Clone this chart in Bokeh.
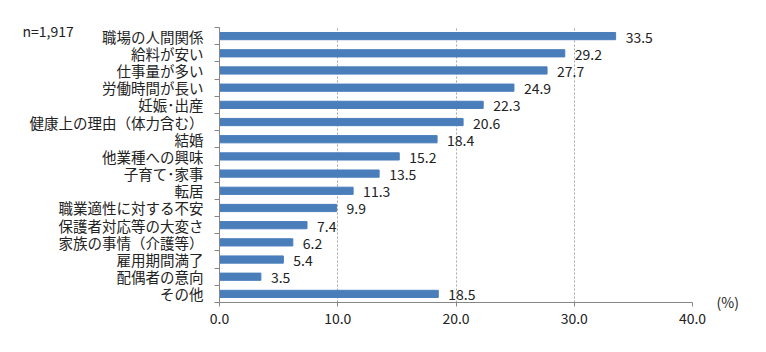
from bokeh.plotting import figure
from bokeh.models import (ColumnDataSource, Range1d, FixedTicker, NumeralTickFormatter,
                          LinearAxis, Title)
from bokeh.core.properties import value
from bokeh.embed import file_html
from bokeh.resources import INLINE

categories = ["職場の人間関係", "給料が安い", "仕事量が多い", "労働時間が長い", "妊娠･出産",
              "健康上の理由（体力含む）", "結婚", "他業種への興味", "子育て･家事", "転居",
              "職業適性に対する不安", "保護者対応等の大変さ", "家族の事情（介護等）",
              "雇用期間満了", "配偶者の意向", "その他"]
values = [33.5, 29.2, 27.7, 24.9, 22.3, 20.6, 18.4, 15.2, 13.5, 11.3, 9.9, 7.4, 6.2, 5.4, 3.5, 18.5]
x_ticks = [0, 10, 20, 30, 40]
sample_note = "n=1,917"
unit_note = "(%)"

JP = "Noto Sans CJK JP"
n = len(categories)
ys = [n - 1 - i for i in range(n)]
src = ColumnDataSource(dict(y=ys, v=values, cat=categories, lab=["%.1f" % v for v in values]))

p = figure(width=766, height=352, output_backend="svg", toolbar_location=None,
           x_range=Range1d(0, 40), y_range=Range1d(-0.5, n - 0.5),
           min_border_left=219, min_border_right=74, min_border_top=27, min_border_bottom=50)
p.outline_line_color = None
p.background_fill_color = "white"

p.hbar(y="y", right="v", left=0, height=0.42, color="#4A7EBB", source=src)
p.text(x="v", y="y", text="lab", source=src, x_offset=10, y_offset=1,
       text_font=value(JP), text_font_size="14px", text_color="#222222",
       text_baseline="middle", text_align="left")

# x axis
p.xaxis.ticker = FixedTicker(ticks=x_ticks)
p.xaxis.formatter = NumeralTickFormatter(format="0.0")
p.xaxis.axis_line_color = "#868686"
p.xaxis.major_tick_line_color = "#868686"
p.xaxis.major_tick_out = 4
p.xaxis.major_tick_in = 0
p.xaxis.minor_tick_line_color = None
p.xaxis.major_label_text_font = JP
p.xaxis.major_label_text_font_size = "14px"
p.xaxis.major_label_text_color = "#222222"
p.xaxis.major_label_standoff = 6

# y axis: labels at centers, ticks at boundaries
p.yaxis.ticker = FixedTicker(ticks=ys, minor_ticks=[k - 0.5 for k in range(n + 1)])
p.yaxis.major_label_overrides = {y: c for y, c in zip(ys, categories)}
p.yaxis.axis_line_color = "#868686"
p.yaxis.major_tick_line_color = None
p.yaxis.major_tick_out = 0
p.yaxis.major_tick_in = 0
p.yaxis.minor_tick_line_color = "#868686"
p.yaxis.minor_tick_out = 5
p.yaxis.minor_tick_in = 0
p.yaxis.major_label_text_font = JP
p.yaxis.major_label_text_font_size = "14.5px"
p.yaxis.major_label_text_color = "#222222"
p.yaxis.major_label_standoff = 11

p.xgrid.grid_line_color = "#A6A6A6"
p.xgrid.grid_line_dash = "2 2"
p.ygrid.grid_line_color = None

# "(%)" as a label-only axis on the right, at the level of the x axis line
unit_axis = LinearAxis(ticker=FixedTicker(ticks=[-0.49], minor_ticks=[]),
                       major_label_overrides={-0.49: unit_note},
                       axis_line_color=None, major_tick_line_color=None,
                       major_tick_out=0, major_tick_in=0, minor_tick_line_color=None,
                       major_label_standoff=24, major_label_text_font=JP,
                       major_label_text_font_size="14px", major_label_text_color="#222222")
p.add_layout(unit_axis, "right")

# sample size note, top-left
p.add_layout(Title(text=sample_note, align="left", offset=-197, standoff=-27,
                   text_font=JP, text_font_size="14px", text_font_style="normal",
                   text_color="#222222"), "above")

open("out.html", "w").write(file_html(p, INLINE))
